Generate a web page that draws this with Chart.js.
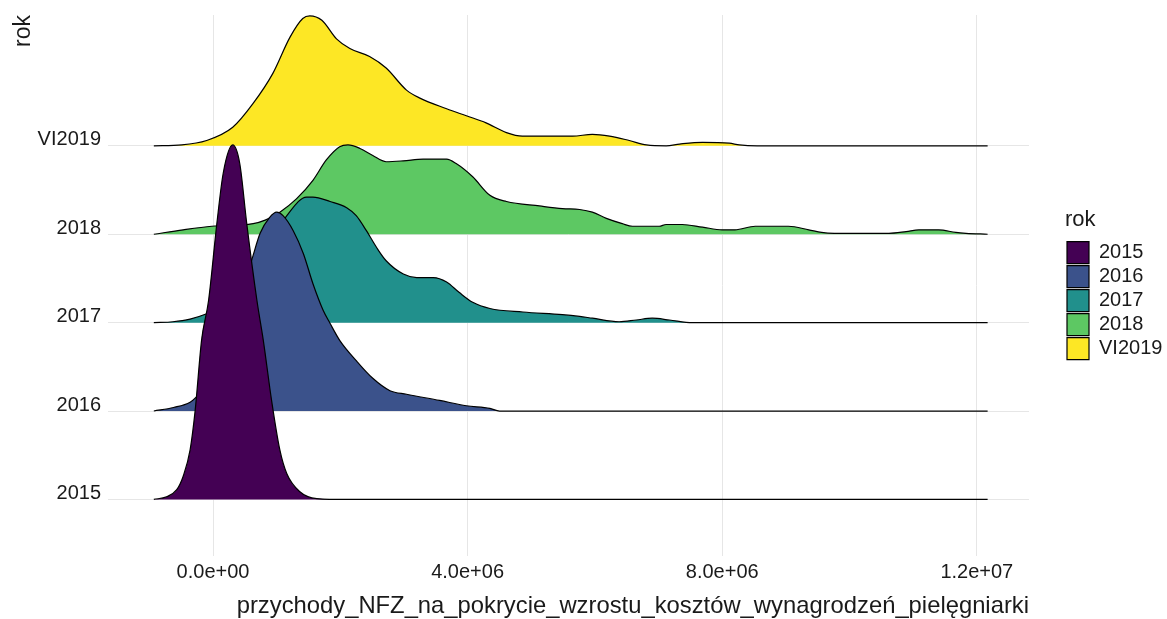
<!DOCTYPE html>
<html>
<head>
<meta charset="utf-8">
<script src="https://cdn.jsdelivr.net/npm/chart.js@4.4.1/dist/chart.umd.min.js"></script>
<style>
  html, body { margin: 0; padding: 0; background: #fff; }
  #wrap { width: 1167px; height: 619px; }
</style>
</head>
<body>
<div id="wrap"><canvas id="chart" width="1167" height="619"></canvas></div>
<script>
// ridge rows, bottom to top
var rows = ["2015", "2016", "2017", "2018", "VI2019"];
var colors = ["#440154", "#3B528B", "#21908C", "#5DC863", "#FDE725"];

// x axis in millions
var xTicks = [0, 4, 8, 12];
var xTickLabels = ["0.0e+00", "4.0e+06", "8.0e+06", "1.2e+07"];

// density curves: x (millions) and ridge height (in row units)
var x2015 = [-0.93, -0.73, -0.57, -0.47, -0.36, -0.28, -0.18, -0.07, 0.06, 0.16, 0.31, 0.42, 0.53, 0.69, 0.79, 0.92, 1.05, 1.16, 1.36, 1.63, 2.10, 12.17];
var h2015 = [0, 0.03, 0.11, 0.26, 0.56, 1.01, 1.80, 2.25, 3.12, 3.69, 4.01, 3.80, 3.12, 2.25, 1.80, 1.12, 0.56, 0.29, 0.09, 0.01, 0, 0];

var x2016 = [-0.93, -0.62, -0.36, -0.26, -0.05, 0.19, 0.42, 0.63, 0.74, 0.89, 1.00, 1.10, 1.26, 1.42, 1.57, 1.73, 1.84, 1.99, 2.25, 2.51, 2.78, 3.04, 3.56, 3.98, 4.35, 4.50, 12.17];
var h2016 = [0, 0.04, 0.10, 0.16, 0.34, 0.68, 1.24, 1.76, 2.01, 2.19, 2.25, 2.21, 2.04, 1.78, 1.44, 1.14, 0.99, 0.80, 0.57, 0.37, 0.23, 0.19, 0.12, 0.06, 0.03, 0, 0];

var x2017 = [-0.93, -0.63, -0.36, -0.10, 0.27, 0.58, 0.89, 1.16, 1.47, 1.57, 1.84, 2.10, 2.25, 2.41, 2.57, 2.72, 2.99, 3.20, 3.46, 3.67, 3.87, 4.08, 4.35, 4.87, 5.49, 5.76, 5.96, 6.38, 6.65, 6.90, 7.17, 7.53, 12.17];
var h2017 = [0, 0.01, 0.04, 0.10, 0.23, 0.51, 0.90, 1.21, 1.42, 1.42, 1.37, 1.30, 1.21, 1.04, 0.85, 0.70, 0.55, 0.51, 0.51, 0.46, 0.34, 0.23, 0.16, 0.12, 0.09, 0.07, 0.05, 0.01, 0.03, 0.05, 0.03, 0, 0];

var x2018 = [-0.93, -0.47, -0.02, 0.63, 0.82, 1.05, 1.31, 1.57, 1.78, 1.99, 2.12, 2.31, 2.51, 2.72, 2.99, 3.30, 3.67, 3.82, 4.08, 4.35, 4.61, 5.13, 5.49, 5.76, 5.96, 6.18, 6.43, 6.59, 7.01, 7.12, 7.37, 7.69, 8.00, 8.20, 8.52, 9.04, 9.36, 9.56, 9.76, 10.62, 10.89, 11.09, 11.40, 11.67, 11.83, 12.17];
var h2018 = [0, 0.05, 0.09, 0.12, 0.16, 0.25, 0.40, 0.61, 0.84, 0.99, 1.01, 0.97, 0.89, 0.82, 0.83, 0.85, 0.85, 0.80, 0.65, 0.44, 0.37, 0.32, 0.29, 0.28, 0.25, 0.18, 0.12, 0.09, 0.09, 0.11, 0.11, 0.08, 0.05, 0.05, 0.09, 0.09, 0.05, 0.02, 0.01, 0.01, 0.03, 0.05, 0.05, 0.02, 0.01, 0];

var x2019 = [-0.93, -0.49, -0.10, 0.31, 0.63, 0.94, 1.21, 1.41, 1.52, 1.71, 1.94, 2.15, 2.46, 2.72, 3.04, 3.25, 3.67, 3.98, 4.29, 4.61, 4.86, 5.65, 5.96, 6.23, 6.54, 6.81, 7.12, 7.33, 7.69, 8.11, 8.27, 8.55, 12.17];
var h2019 = [0, 0.01, 0.06, 0.21, 0.48, 0.82, 1.23, 1.44, 1.47, 1.42, 1.21, 1.10, 1.01, 0.88, 0.63, 0.54, 0.42, 0.34, 0.26, 0.15, 0.11, 0.11, 0.13, 0.11, 0.06, 0.01, 0, 0.02, 0.04, 0.03, 0.01, 0, 0];

var xs = [x2015, x2016, x2017, x2018, x2019];
var hs = [h2015, h2016, h2017, h2018, h2019];

Chart.defaults.font.family = '"Liberation Sans", Arial, sans-serif';
Chart.defaults.color = "#1a1a1a";

// dataset 0 is drawn last, so lower ridges sit on top of upper ones
var datasets = rows.map(function (name, i) {
    var base = i + 1;
    return {
        label: name,
        data: xs[i].map(function (x, j) { return { x: x, y: base + hs[i][j] }; }),
        borderColor: "#000000",
        borderWidth: 1.2,
        backgroundColor: colors[i],
        fill: { value: base },
        pointRadius: 0,
        cubicInterpolationMode: "monotone"
    };
});

var gridColor = "#e6e6e6";

var ctx = document.getElementById("chart");
var myChart = new Chart(ctx, {
    type: "line",
    data: { datasets: datasets },
    options: {
        responsive: false,
        maintainAspectRatio: false,
        animation: false,
        layout: { padding: { left: 0, top: 15, right: 0, bottom: 0 } },
        scales: {
            x: {
                type: "linear",
                min: -1.65,
                max: 12.82,
                afterBuildTicks: function (s) { s.ticks = xTicks.map(function (v) { return { value: v }; }); },
                afterFit: function (s) { s.height = 63; },
                ticks: {
                    callback: function (v) { return xTickLabels[xTicks.indexOf(v)]; },
                    font: { size: 20 },
                    padding: 4,
                    maxRotation: 0,
                    autoSkip: false
                },
                grid: { color: gridColor, drawTicks: false },
                border: { display: false },
                title: {
                    display: true,
                    text: "przychody_NFZ_na_pokrycie_wzrostu_kosztów_wynagrodzeń_pielęgniarki",
                    align: "end",
                    font: { size: 23.8, lineHeight: 1 },
                    padding: { top: 0, bottom: 1 }
                }
            },
            y: {
                type: "linear",
                min: 0.36,
                max: 6.48,
                afterBuildTicks: function (s) { s.ticks = rows.map(function (r, i) { return { value: i + 1 }; }); },
                afterFit: function (s) {
                    s.width = 108;
                    s.paddingTop = 0;
                    s.paddingBottom = 0;
                },
                ticks: {
                    callback: function (v) { return rows[v - 1]; },
                    font: { size: 20 },
                    padding: 7,
                    labelOffset: -6
                },
                grid: { color: gridColor, drawTicks: false },
                border: { display: false },
                title: {
                    display: true,
                    text: "rok",
                    align: "end",
                    font: { size: 23, lineHeight: 1 },
                    padding: { top: 12.5, bottom: 0 }
                }
            },
            gap: {
                type: "linear",
                position: "right",
                display: true,
                ticks: { display: false },
                grid: { display: false },
                border: { display: false },
                afterFit: function (s) { s.width = 36; }
            }
        },
        plugins: {
            legend: {
                position: "right",
                fullSize: false,
                align: "center",
                maxWidth: 102,
                labels: {
                    boxWidth: 22,
                    boxHeight: 22,
                    padding: 2,
                    font: { size: 20 }
                },
                title: {
                    display: true,
                    text: "rok",
                    position: "start",
                    font: { size: 22 },
                    padding: { top: 0, bottom: 4 }
                }
            },
            tooltip: { enabled: false }
        }
    }
});
</script>
</body>
</html>
